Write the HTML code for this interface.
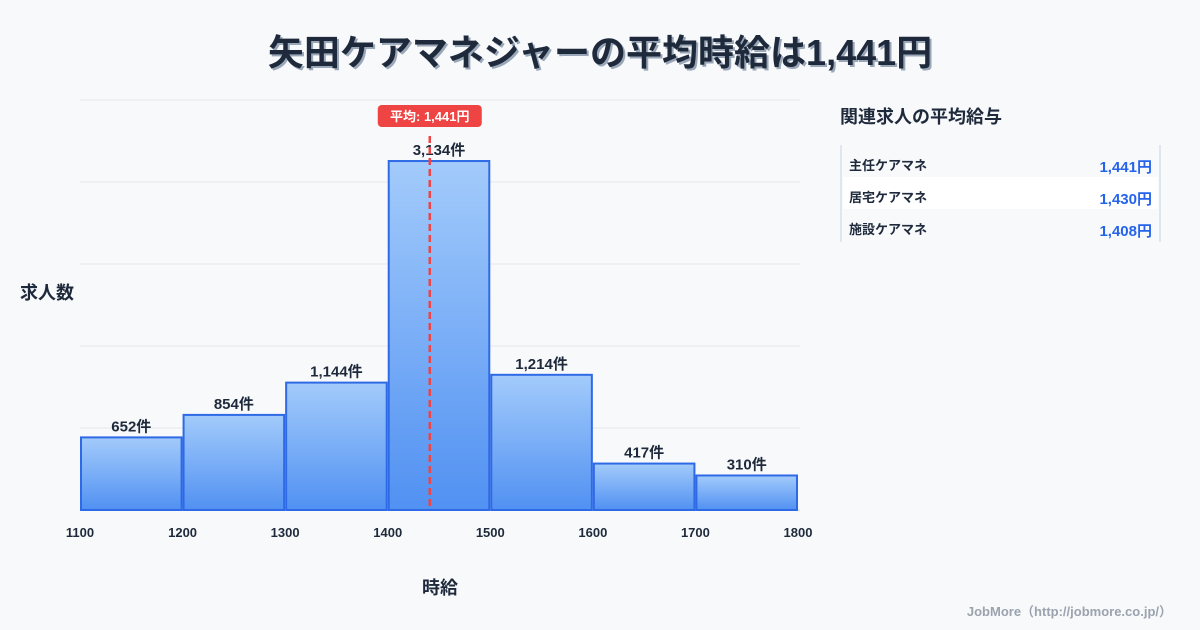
<!DOCTYPE html>
<html><head><meta charset="utf-8"><style>
body{margin:0;background:#f8f9fb;font-family:"Liberation Sans","Noto Sans CJK JP",sans-serif;}
#wrap{position:relative;width:1200px;height:630px;overflow:hidden;background:#f8f9fb;}
</style></head><body>
<div id="wrap">
<svg id="svg" width="1200" height="630" xmlns="http://www.w3.org/2000/svg">
<defs>
<linearGradient id="g" x1="0" y1="0" x2="0" y2="1"><stop offset="0" stop-color="#a3cbfb"/><stop offset="1" stop-color="#5191f2"/></linearGradient>
</defs>
<text x="602" y="67" text-anchor="middle" font-size="36" font-weight="bold" fill="#9aa7b8">矢田ケアマネジャーの平均時給は1,441円</text>
<text x="600" y="65" text-anchor="middle" font-size="36" font-weight="bold" fill="#1e2a3b">矢田ケアマネジャーの平均時給は1,441円</text>
<g id="grid"></g><g id="bars"></g><g id="xt"></g>
<text x="20" y="299" font-size="18" font-weight="bold" fill="#1e2a3b">求人数</text>
<text x="440" y="594" text-anchor="middle" font-size="18" font-weight="bold" fill="#1e2a3b">時給</text>
<g id="mean"></g>
<text x="840" y="123" font-size="18" font-weight="bold" fill="#1e2a3b">関連求人の平均給与</text>
<line x1="841" y1="145" x2="841" y2="242" stroke="#c8d2df"/>
<line x1="1160" y1="145" x2="1160" y2="242" stroke="#c8d2df"/>
<rect x="843" y="177" width="315" height="32" fill="#ffffff"/>
<g id="rel"></g>
<text x="1172" y="616" text-anchor="end" font-size="13" font-weight="bold" fill="#9aa3ae">JobMore（http://jobmore.co.jp/）</text>
</svg>
</div>
<script>
const binStarts=[1100,1200,1300,1400,1500,1600,1700];
const counts=[652,854,1144,3134,1214,417,310];
const countLabels=["652件","854件","1,144件","3,134件","1,214件","417件","310件"];
const xTicks=[1100,1200,1300,1400,1500,1600,1700,1800];
const meanValue=1441;
const relNames=["主任ケアマネ","居宅ケアマネ","施設ケアマネ"];
const relValues=["1,441円","1,430円","1,408円"];
const NS="http://www.w3.org/2000/svg";
const X=v=>80+(v-1100)*718/700;
const yMax=3682;const Y=v=>510-v*410/yMax;
function mk(t,a,p){const e=document.createElementNS(NS,t);for(const k in a)e.setAttribute(k,a[k]);document.getElementById(p).appendChild(e);return e;}
for(let i=0;i<=5;i++){const y=510-i*82;const l=mk('line',{x1:80,x2:800,y1:y,y2:y,stroke:i==0?'#d0d6de':'#e3e7ec'},'grid');

}
binStarts.forEach((b,i)=>{const x0=X(b)+1,x1=X(b+100)-1,y=Y(counts[i]);
const r=mk('rect',{x:x0,y:y,width:x1-x0,height:510-y,fill:'url(#g)',stroke:'#2f6ae6','stroke-width':2},'bars');


const t=mk('text',{x:(x0+x1)/2,y:y-6,'text-anchor':'middle','font-size':15,'font-weight':'bold',fill:'#1e2a3b'},'bars');t.textContent=countLabels[i];

});
xTicks.forEach(v=>{const t=mk('text',{x:X(v),y:537,'text-anchor':'middle','font-size':13,'font-weight':'bold',fill:'#1e2a3b'},'xt');t.textContent=v;

});
const mx=X(meanValue);
const ml=mk('line',{x1:mx,x2:mx,y1:136,y2:510,stroke:'#ef4444','stroke-width':2.5,'stroke-dasharray':'7,4'},'mean');


const mr=mk('rect',{x:mx-52,y:105,width:104,height:22,rx:4,fill:'#ef4444'},'mean');


const mt=mk('text',{x:mx,y:121,'text-anchor':'middle','font-size':13,'font-weight':'bold',fill:'#fff'},'mean');mt.textContent='平均: 1,441円';


relNames.forEach((n,i)=>{const y=170+i*32;
const a=mk('text',{x:849,y:y,'font-size':13,'font-weight':'bold',fill:'#1e2a3b'},'rel');a.textContent=n;


const b=mk('text',{x:1152,y:y+2,'text-anchor':'end','font-size':15,'font-weight':'bold',fill:'#2563eb'},'rel');b.textContent=relValues[i];

});
</script>
</body></html>
